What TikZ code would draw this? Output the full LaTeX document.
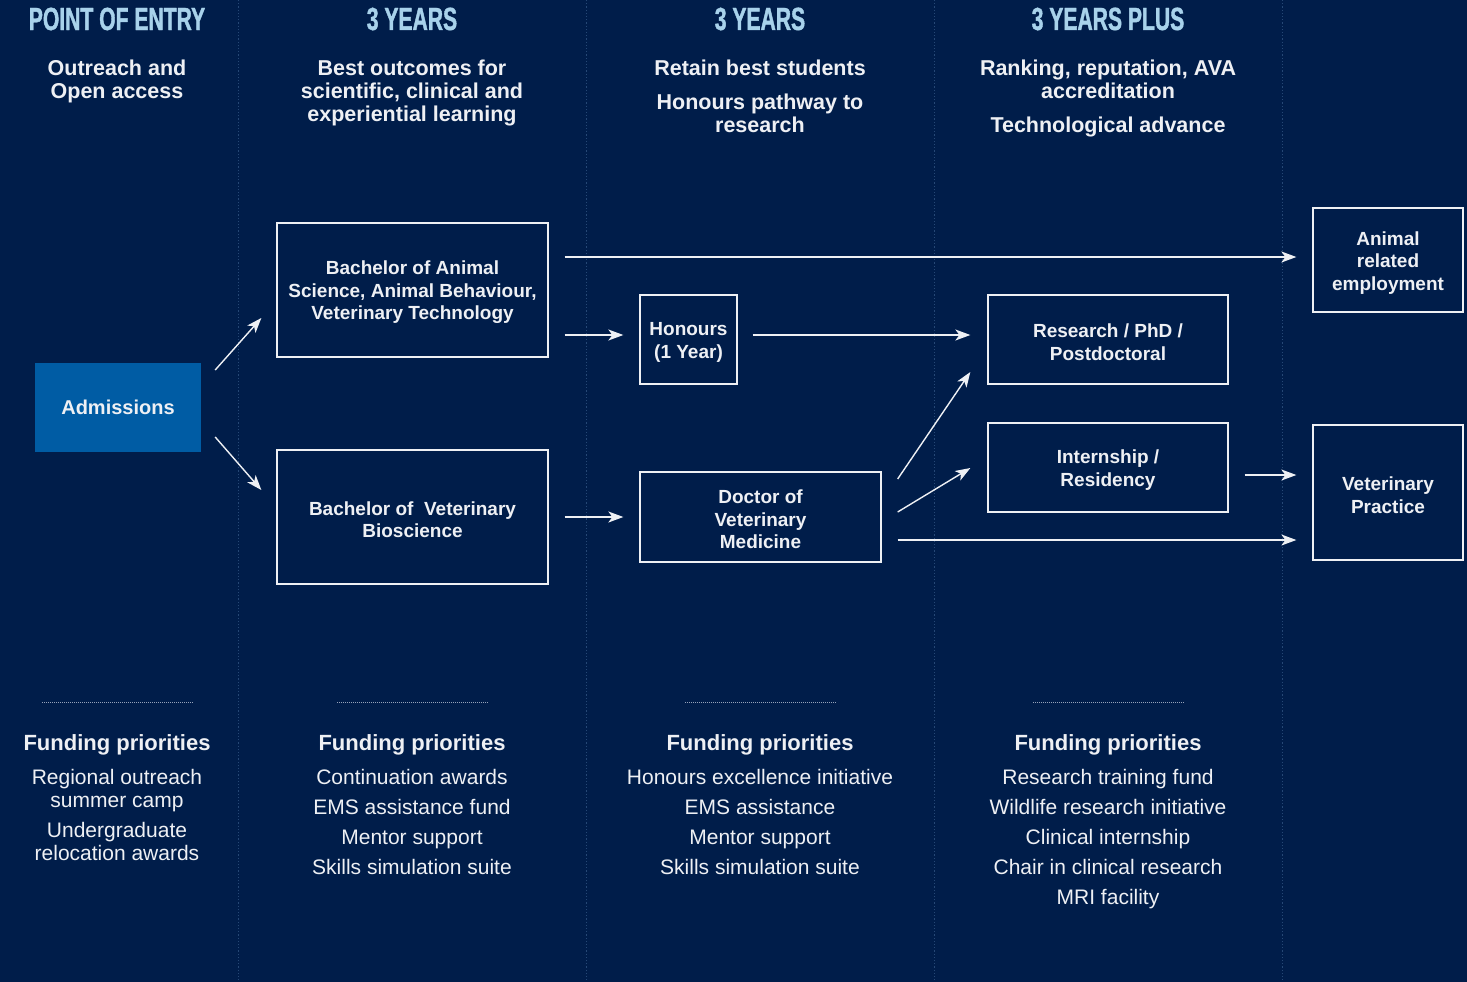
\documentclass[tikz,border=0pt]{standalone}
\usepackage{fontspec}
\setmainfont{Liberation Sans}
\newfontfamily\headfont{Liberation Sans Bold}[FakeStretch=0.66,FakeBold=1.2]
\usetikzlibrary{arrows.meta}
\definecolor{navy}{RGB}{0,29,74}
\definecolor{headblue}{RGB}{168,210,235}
\definecolor{ink}{RGB}{238,240,244}
\definecolor{admblue}{RGB}{0,92,164}
\definecolor{colline}{RGB}{38,72,118}
\definecolor{rule}{RGB}{150,162,185}
% empty top line that lowers the text block a little inside its box
\newcommand{\padtop}{\rule{0pt}{0pt}\\[-3.5pt]}
\begin{document}
\begin{tikzpicture}[x=1pt,y=-1pt,
  hdr/.style={text=headblue,font=\headfont\fontsize{32}{34}\selectfont,inner sep=0pt},
  aim/.style={text=ink,align=center,anchor=north,inner sep=0pt,font=\bfseries\fontsize{21.5}{23}\selectfont},
  stage/.style={draw=ink,line width=1.3pt,text=ink,align=center,inner sep=0pt,
    font=\bfseries\fontsize{19}{22.5}\selectfont},
  entry/.style={fill=admblue,text=ink,inner sep=0pt,font=\bfseries\fontsize{20}{22}\selectfont},
  fundhead/.style={text=ink,inner sep=0pt,font=\bfseries\fontsize{22}{24}\selectfont},
  fundlist/.style={text=ink,align=center,anchor=north,inner sep=0pt,font=\fontsize{21}{23}\selectfont},
  flow/.style={draw=ink,line width=1.4pt,-{Stealth[length=15pt,width=11pt,inset=4pt]}},
  colsep/.style={draw=colline,line width=1pt,dash pattern=on 1.2pt off 2pt},
  fundrule/.style={draw=rule,line width=0.8pt,dash pattern=on 1pt off 1pt}
]
% background and page frame
\fill[navy] (0,0) rectangle (1467,982);
\useasboundingbox (0,0) rectangle (1467,982);

% column separators
\foreach \cx in {238,586,934,1282}
  \draw[colsep] (\cx,0) -- (\cx,982);

% column headings
\node[hdr] (h1) at (117,19) {POINT OF ENTRY};
\node[hdr] (h2) at (412,19) {3 YEARS};
\node[hdr] (h3) at (760,19) {3 YEARS};
\node[hdr] (h4) at (1108,19) {3 YEARS PLUS};

% aims of each stage
\node[aim] (a1) at (117,59.5) {Outreach and\\Open access};
\node[aim] (a2) at (412,59.5) {Best outcomes for\\scientific, clinical and\\experiential learning};
\node[aim] (a3) at (760,59.5) {Retain best students\\[11pt]Honours pathway to\\research};
\node[aim] (a4) at (1108,59.5) {Ranking, reputation, AVA\\accreditation\\[11pt]Technological advance};

% pathway boxes
\node[entry,minimum width=166pt,minimum height=89pt] (adm) at (118,407.5) {Admissions};
\node[stage,minimum width=271pt,minimum height=134pt] (ba) at (412.5,290)
  {\padtop Bachelor of Animal\\Science, Animal Behaviour,\\Veterinary Technology};
\node[stage,minimum width=271pt,minimum height=134pt] (bvs) at (412.5,517)
  {\padtop Bachelor of~ Veterinary\\Bioscience};
\node[stage,minimum width=97pt,minimum height=89pt] (hon) at (688.5,339.5)
  {\padtop Honours\\(1 Year)};
\node[stage,minimum width=241pt,minimum height=90pt] (dvm) at (760.5,517)
  {\padtop Doctor of\\Veterinary\\Medicine};
\node[stage,minimum width=240pt,minimum height=89pt] (res) at (1108,339.5)
  {\padtop Research / PhD /\\Postdoctoral};
\node[stage,minimum width=240pt,minimum height=89pt] (int) at (1108,467.5)
  {\padtop Internship /\\Residency};
\node[stage,minimum width=150pt,minimum height=104pt] (ae) at (1388,260)
  {\padtop Animal\\related\\employment};
\node[stage,minimum width=150pt,minimum height=135pt] (vp) at (1388,492.5)
  {\padtop Veterinary\\Practice};

% connectors
\draw[flow] ([shift={(14,-37.5)}]adm.east) -- ([shift={(-15,28)}]ba.west);
\draw[flow] ([shift={(14,29.5)}]adm.east) -- ([shift={(-15,-27)}]bvs.west);
\draw[flow] ([shift={(16,-33)}]ba.east) -- ([shift={(-16,-3)}]ae.west);
\draw[flow] ([shift={(16,45)}]ba.east) -- ([shift={(-16,-4.5)}]hon.west);
\draw[flow] ([shift={(15,-4.5)}]hon.east) -- ([shift={(-17,-4.5)}]res.west);
\draw[flow] ([shift={(16,0)}]bvs.east) -- ([shift={(-16,0)}]dvm.west);
\draw[flow] ([shift={(16,-38)}]dvm.east) -- ([shift={(-17,32.5)}]res.west);
\draw[flow] ([shift={(16,-5)}]dvm.east) -- ([shift={(-17,0.5)}]int.west);
\draw[flow] ([shift={(16,23)}]dvm.east) -- ([shift={(-16,47.5)}]vp.west);
\draw[flow] ([shift={(16,7.5)}]int.east) -- ([shift={(-16,-17.5)}]vp.west);

% funding priorities
\foreach \cx in {118,413,761,1109}
  \draw[fundrule] (\cx-76,702) -- (\cx+76,702);

\node[fundhead] (f1) at (117,745) {Funding priorities};
\node[fundhead] (f2) at (412,745) {Funding priorities};
\node[fundhead] (f3) at (760,745) {Funding priorities};
\node[fundhead] (f4) at (1108,745) {Funding priorities};

\node[fundlist] (l1) at (117,769) {Regional outreach\\summer camp\\[7pt]Undergraduate\\relocation awards};
\node[fundlist] (l2) at (412,769) {Continuation awards\\[7pt]EMS assistance fund\\[7pt]Mentor support\\[7pt]Skills simulation suite};
\node[fundlist] (l3) at (760,769) {Honours excellence initiative\\[7pt]EMS assistance\\[7pt]Mentor support\\[7pt]Skills simulation suite};
\node[fundlist] (l4) at (1108,769) {Research training fund\\[7pt]Wildlife research initiative\\[7pt]Clinical internship\\[7pt]Chair in clinical research\\[7pt]MRI facility};
\end{tikzpicture}
\end{document}
